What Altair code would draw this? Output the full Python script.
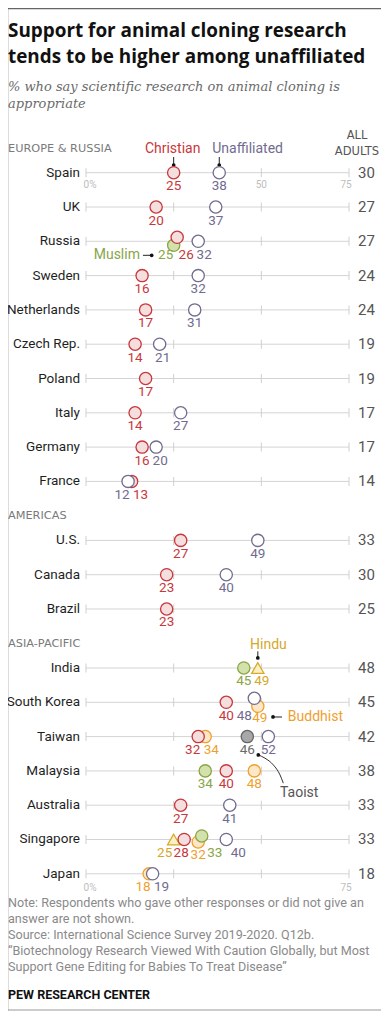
import altair as alt
import pandas as pd

# ---------------- data ----------------
countries = ["Spain", "UK", "Russia", "Sweden", "Netherlands", "Czech Rep.", "Poland",
             "Italy", "Germany", "France",
             "U.S.", "Canada", "Brazil",
             "India", "South Korea", "Taiwan", "Malaysia", "Australia", "Singapore", "Japan"]
regions = ["EUROPE & RUSSIA"] * 10 + ["AMERICAS"] * 3 + ["ASIA-PACIFIC"] * 7
all_adults = [30, 27, 27, 24, 24, 19, 19, 17, 17, 14,
              33, 30, 25,
              48, 45, 42, 38, 33, 33, 18]
christian = [25, 20, 26, 16, 17, 14, 17, 14, 16, 13,
             27, 23, 23,
             None, 40, 32, 40, 27, 28, None]
unaffiliated = [38, 37, 32, 32, 31, 21, None, 27, 20, 12,
                49, 40, None,
                None, 48, 52, None, 41, 40, 19]
muslim = [None, None, 25, None, None, None, None, None, None, None,
          None, None, None,
          45, None, None, 34, None, 33, None]
hindu = [None, None, None, None, None, None, None, None, None, None,
         None, None, None,
         49, None, None, None, None, 25, None]
buddhist = [None, None, None, None, None, None, None, None, None, None,
            None, None, None,
            None, 49, 34, 48, None, 32, 18]
taoist = [None, None, None, None, None, None, None, None, None, None,
          None, None, None,
          None, None, 46, None, None, None, None]
series_names = ["Buddhist", "Muslim", "Hindu", "Taoist", "Christian", "Unaffiliated"]
axis_ticks = [0, 25, 50, 75]

# ---------------- layout / style ----------------
W, H = 373, 1003
X0, X1 = 78, 341           # pixel position of 0 and 75
PX = (X1 - X0) / 75.0      # pixels per percentage point
ROW = 34.3                 # pixels per row
Y0 = 164.7                 # pixel position of first row
GAP = 0.72                 # extra rows between regions
FONT = "Roboto"

fills = {"Christian": "#f4dede", "Unaffiliated": "#ffffff", "Muslim": "#d3e1ab",
         "Hindu": "#fbefc4", "Buddhist": "#fce8c9", "Taoist": "#a8a8a8"}
strokes = {"Christian": "#c8373c", "Unaffiliated": "#716c8f", "Muslim": "#8aa549",
           "Hindu": "#d6aa2a", "Buddhist": "#f0a02e", "Taoist": "#666666"}
labcol = {"Christian": "#c8373c", "Unaffiliated": "#716c8f", "Muslim": "#8aa549",
          "Hindu": "#d6a82a", "Buddhist": "#ef9f2e", "Taoist": "#6b6b6b"}
shapes = {s: ("triangle-up" if s == "Hindu" else "circle") for s in series_names}

DOT_DY = {("Russia", "Christian"): -4, ("Russia", "Muslim"): 4,
          ("South Korea", "Unaffiliated"): -4, ("South Korea", "Buddhist"): 4,
          ("Singapore", "Muslim"): -3.5, ("Singapore", "Buddhist"): 2.5}
LABEL_DX = {("Russia", "Muslim"): -8, ("Russia", "Christian"): 9, ("Russia", "Unaffiliated"): 6,
            ("Czech Rep.", "Unaffiliated"): 3, ("Germany", "Unaffiliated"): 4,
            ("France", "Unaffiliated"): -6, ("France", "Christian"): 9,
            ("India", "Hindu"): 4,
            ("South Korea", "Unaffiliated"): -10, ("South Korea", "Buddhist"): 2,
            ("Taiwan", "Christian"): -5.5, ("Taiwan", "Buddhist"): 6,
            ("Singapore", "Hindu"): -9, ("Singapore", "Christian"): -3,
            ("Singapore", "Muslim"): 13, ("Singapore", "Unaffiliated"): 12,
            ("Japan", "Buddhist"): -6, ("Japan", "Unaffiliated"): 9}
LABEL_DY = {("South Korea", "Buddhist"): 2, ("Singapore", "Buddhist"): 2}


def ax(v, dpx=0.0):
    return v + dpx / PX


def ay(r, dpx=0.0):
    return r + dpx / ROW


# row positions (index plus a gap between regions)
rows = []
g = 0
for i, r in enumerate(regions):
    if i > 0 and r != regions[i - 1]:
        g += 1
    rows.append(i + g * GAP)
rowof = dict(zip(countries, rows))
LAST = rows[-1]

xs = alt.Scale(domain=[0, 75], range=[X0, X1], zero=False, nice=False)
ys = alt.Scale(domain=[0, LAST], range=[Y0, Y0 + LAST * ROW], zero=False, nice=False)


def X(f):
    return alt.X(f"{f}:Q", scale=xs, axis=None)


def Y(f):
    return alt.Y(f"{f}:Q", scale=ys, axis=None)


base_rows = pd.DataFrame({"country": countries, "region": regions, "row": rows,
                          "all": [str(v) for v in all_adults],
                          "lo": axis_ticks[0], "hi": axis_ticks[-1]})

lines = alt.Chart(base_rows).mark_rule(color="#d4d4d4", strokeWidth=1).encode(
    x=X("lo"), x2="hi", y=Y("row"))

tick_df = pd.DataFrame([{"row": r, "v": t} for r in rows for t in axis_ticks])
ticks = alt.Chart(tick_df).mark_tick(orient="vertical", size=9, thickness=1,
                                     color="#cfcfcf", opacity=1).encode(x=X("v"), y=Y("row"))

series_lists = {"Buddhist": buddhist, "Muslim": muslim, "Hindu": hindu, "Taoist": taoist,
                "Christian": christian, "Unaffiliated": unaffiliated}
recs = []
for s in series_names:
    for c, v in zip(countries, series_lists[s]):
        if v is None:
            continue
        recs.append(dict(country=c, series=s, value=v,
                         y=ay(rowof[c], DOT_DY.get((c, s), 0)),
                         lx=ax(v, LABEL_DX.get((c, s), 0)),
                         ly=ay(rowof[c], LABEL_DY.get((c, s), 0)),
                         label=str(v)))
dots_df = pd.DataFrame(recs)

fill_sc = alt.Scale(domain=series_names, range=[fills[s] for s in series_names])
stroke_sc = alt.Scale(domain=series_names, range=[strokes[s] for s in series_names])
lab_sc = alt.Scale(domain=series_names, range=[labcol[s] for s in series_names])
shape_sc = alt.Scale(domain=series_names, range=[shapes[s] for s in series_names])

dots = alt.Chart(dots_df).mark_point(filled=True, size=150, strokeWidth=1.3, opacity=1,
                                     fillOpacity=1, strokeOpacity=1).encode(
    x=X("value"), y=Y("y"),
    fill=alt.Fill("series:N", scale=fill_sc, legend=None),
    stroke=alt.Stroke("series:N", scale=stroke_sc, legend=None),
    shape=alt.Shape("series:N", scale=shape_sc, legend=None))

vlabels = alt.Chart(dots_df).mark_text(font=FONT, fontSize=13.5, baseline="middle",
                                       dy=13.5).encode(
    x=X("lx"), y=Y("ly"), text="label:N",
    color=alt.Color("series:N", scale=lab_sc, legend=None))

clabels = alt.Chart(base_rows).mark_text(font=FONT, fontSize=13.5, align="right",
                                         baseline="middle", color="#1f1f1f").encode(
    x=alt.value(72), y=Y("row"), text="country:N")

alabels = alt.Chart(base_rows).mark_text(font=FONT, fontSize=15, align="left",
                                         baseline="middle", color="#555555").encode(
    x=alt.value(350), y=Y("row"), text="all:N")

reg_df = base_rows.drop_duplicates("region").copy()
reg_df["hy"] = reg_df["row"] - 0.7
rlabels = alt.Chart(reg_df).mark_text(font="DejaVu Sans", fontSize=11.3, align="left",
                                      baseline="middle", color="#7a7a7a").encode(
    x=alt.value(0), y=Y("hy"), text="region:N")

tl = []
for c, items, d in [("Spain", [(0, "0%", 4), (50, "50", 0), (75, "75", -3)], 12.5),
                    ("Japan", [(0, "0%", 4), (75, "75", -3)], 14)]:
    for v, t, dx in items:
        tl.append(dict(x=ax(v, dx), y=ay(rowof[c], d), t=t))
tlabels = alt.Chart(pd.DataFrame(tl)).mark_text(font=FONT, fontSize=10, baseline="middle",
                                                color="#bdbdbd").encode(
    x=X("x"), y=Y("y"), text="t:N")

# ---------------- annotations anchored to data ----------------
r_sp, r_ru, r_in, r_sk, r_tw = (rowof[k] for k in ["Spain", "Russia", "India", "South Korea", "Taiwan"])
segs = pd.DataFrame([
    dict(x=25, x2=25, y=ay(r_sp, -15.7), y2=ay(r_sp, -7.7)),
    dict(x=38, x2=38, y=ay(r_sp, -15.7), y2=ay(r_sp, -7.7)),
    dict(x=ax(25, -30.7), x2=ax(25, -22), y=ay(r_ru, 14), y2=ay(r_ru, 14)),
    dict(x=49, x2=49, y=ay(r_in, -16.6), y2=ay(r_in, -10)),
    dict(x=ax(49, 15.2), x2=ax(49, 24.2), y=ay(r_sk, 14.7), y2=ay(r_sk, 14.7)),
])
leaders = alt.Chart(segs).mark_rule(color="#222222", strokeWidth=1).encode(
    x=X("x"), x2="x2", y=Y("y"), y2="y2")
ldots_df = pd.DataFrame([
    dict(x=25, y=ay(r_sp, -7.7)), dict(x=38, y=ay(r_sp, -7.7)),
    dict(x=ax(25, -22), y=ay(r_ru, 14)), dict(x=49, y=ay(r_in, -10)),
    dict(x=ax(49, 15.2), y=ay(r_sk, 14.7)), dict(x=ax(46, 11), y=ay(r_tw, 18.3)),
])
ldots = alt.Chart(ldots_df).mark_point(filled=True, size=14, color="#111111", opacity=1).encode(
    x=X("x"), y=Y("y"))
curve_df = pd.DataFrame([dict(x=ax(46, dx), y=ay(r_tw, dy)) for dx, dy in
                         [(11, 18.3), (17.7, 21.6), (26, 28.3), (32.7, 38.3), (36, 46.6)]])
curve = alt.Chart(curve_df).mark_line(color="#333333", strokeWidth=1,
                                      interpolate="monotone").encode(x=X("x"), y=Y("y"))


def ann(text, x, y, color, align, size=13.5):
    d = pd.DataFrame([dict(x=x, y=y, t=text)])
    return alt.Chart(d).mark_text(font=FONT, fontSize=size, align=align, baseline="middle",
                                  color=color).encode(x=X("x"), y=Y("y"), text="t:N")


anns = [
    ann("Christian", ax(25, -1), ay(r_sp, -23.5), labcol["Christian"], "center", 14),
    ann("Unaffiliated", ax(38, -7), ay(r_sp, -23.5), labcol["Unaffiliated"], "left", 14),
    ann("Muslim", ax(25, -33.7), ay(r_ru, 14), labcol["Muslim"], "right", 14),
    ann("Hindu", ax(49, -7.8), ay(r_in, -23.3), labcol["Hindu"], "left", 14),
    ann("Buddhist", ax(49, 30), ay(r_sk, 14.7), labcol["Buddhist"], "left", 14),
    ann("Taoist", ax(46, 32.7), ay(r_tw, 56.6), "#555555", "left", 14),
]


# ---------------- free text (title, notes) ----------------
def txt(text, x, y, size, color, weight="normal", style="normal", font=FONT,
        align="left", baseline="alphabetic"):
    return alt.Chart(pd.DataFrame({"t": [text]})).mark_text(
        font=font, fontSize=size, fontWeight=weight, fontStyle=style, color=color,
        align=align, baseline=baseline).encode(x=alt.value(x), y=alt.value(y), text="t:N")


NOTE = "#8a8a8a"
texts = [
    txt("Support for animal cloning research", 0, 29, 18.9, "#111111", weight="bold",
        font="Open Sans"),
    txt("tends to be higher among unaffiliated", 0, 55, 18.9, "#111111", weight="bold",
        font="Open Sans"),
    txt("% who say scientific research on animal cloning is", 0, 83, 13, "#6b6b6b",
        style="italic", font="DejaVu Serif"),
    txt("appropriate", 0, 100, 13, "#6b6b6b", style="italic", font="DejaVu Serif"),
    txt("ALL", 349, 128, 11.5, "#555555", font="DejaVu Sans", align="center", baseline="middle"),
    txt("ADULTS", 349, 144, 11.5, "#555555", font="DejaVu Sans", align="center", baseline="middle"),
    txt("Note: Respondents who gave other responses or did not give an", 0, 899, 12.6, NOTE),
    txt("answer are not shown.", 0, 915, 12.6, NOTE),
    txt("Source: International Science Survey 2019-2020. Q12b.", 0, 931, 12.6, NOTE),
    txt("\u201cBiotechnology Research Viewed With Caution Globally, but Most", 0, 947, 12.6, NOTE),
    txt("Support Gene Editing for Babies To Treat Disease\u201d", 0, 963, 12.6, NOTE),
    txt("PEW RESEARCH CENTER", 0, 991, 12.5, "#111111", weight="bold"),
]
frame = [
    alt.Chart(pd.DataFrame({"a": [0]})).mark_rule(color="#666666", strokeWidth=1.2).encode(
        x=alt.value(0), x2=alt.value(W), y=alt.value(0.6)),
    alt.Chart(pd.DataFrame({"a": [0]})).mark_rule(color="#999999", strokeWidth=1.2).encode(
        x=alt.value(0), x2=alt.value(W), y=alt.value(H - 1)),
]

chart = alt.layer(
    lines, ticks, curve, leaders, ldots, dots, vlabels, clabels, alabels, rlabels, tlabels,
    *anns, *texts, *frame
).properties(
    width=W, height=H, autosize=alt.AutoSizeParams(type="none"), padding=0
).configure_view(stroke=None).configure(background="white")

chart.save("out.html", embed_options={"renderer": "svg", "actions": False})
